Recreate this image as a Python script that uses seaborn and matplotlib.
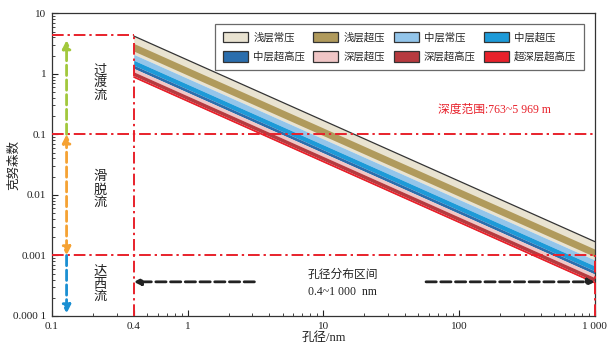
import numpy as np
import pandas as pd
import matplotlib
matplotlib.use("Agg")
import matplotlib.pyplot as plt
from matplotlib.patches import Patch
import seaborn as sns

# ---- data ----
pore_ends = [0.4, 1000]  # nm, extent of bands
categories = ["浅层常压", "浅层超压", "中层常压", "中层超压",
              "中层超高压", "深层超压", "深层超高压", "超深层超高压"]
colors = ["#e9e3d1", "#b09a5c", "#93c5ea", "#1d9ad8",
          "#2b6ead", "#f0c6c6", "#b73a3f", "#e8212b"]
# Knudsen number band limits at d = 0.4 nm and d = 1000 nm
kn_hi_04 = [4.22, 3.18, 2.10, 1.68, 1.39, 1.23, 1.08, 0.93]
kn_lo_04 = [2.10, 2.38, 1.68, 1.39, 1.23, 1.08, 0.93, 0.88]
kn_hi_1000 = [0.00169, 0.00127, 0.00084, 0.00067, 0.000555, 0.00049, 0.00043, 0.00037]
kn_lo_1000 = [0.00084, 0.00095, 0.00067, 0.000555, 0.00049, 0.00043, 0.00037, 0.00035]

xticks = [0.1, 0.4, 1, 10, 100, 1000]
xticklabels = ["0.1", "0.4", "1", "10", "100", "1 000"]
yticks = [1e-4, 1e-3, 1e-2, 1e-1, 1, 10]
yticklabels = ["0.000 1", "0.001", "0.01", "0.1", "1", "10"]

kn_transition_top = 4.3
kn_boundaries = [0.1, 0.001]

sns.set_theme(style="ticks")
plt.rcParams["font.family"] = ["Liberation Serif", "Noto Sans CJK SC", "DejaVu Sans"]
plt.rcParams["axes.unicode_minus"] = False

fig = plt.figure(figsize=(6.12, 3.55), dpi=100)
ax = fig.add_axes([0.085, 0.110, 0.887, 0.8525])
ax.set_xscale("log")
ax.set_yscale("log")
ax.set_xlim(0.1, 1000)
ax.set_ylim(1e-4, 10)

# ---- bands ----
handles = []
for i, (cat, col) in enumerate(zip(categories, colors)):
    ax.fill_between(pore_ends, [kn_lo_04[i], kn_lo_1000[i]],
                    [kn_hi_04[i], kn_hi_1000[i]], color=col, lw=0, zorder=2 + i * 0.01)
    handles.append(Patch(facecolor=col, edgecolor="#333333", linewidth=0.9, label=cat))

edge_df = pd.DataFrame({
    "d": pore_ends * 2,
    "kn": [kn_hi_04[0], kn_hi_1000[0], kn_lo_04[-1], kn_lo_1000[-1]],
    "edge": ["top", "top", "bottom", "bottom"],
})
sns.lineplot(data=edge_df, x="d", y="kn", hue="edge",
             palette={"top": "#333333", "bottom": "#e8212b"},
             lw=0.9, ax=ax, legend=False, zorder=3)

# ---- reference dash-dot lines ----
red = "#e8212b"
dd = dict(color=red, lw=1.4, ls=(0, (6, 2, 1.2, 2)), zorder=4)
ax.plot([0.1, 0.4], [kn_transition_top, kn_transition_top], **dd)
for yb in kn_boundaries:
    ax.plot([0.1, 1000], [yb, yb], **dd)
ax.plot([0.4, 0.4], [1e-4, kn_transition_top], **dd)
ax.plot([1000, 1000], [1e-4, 1e-3], clip_on=False, **dd)

# ---- vertical flow regime arrows ----
xa = 0.128
ax.annotate("", xy=(xa, 3.6), xytext=(xa, 0.1),
            arrowprops=dict(arrowstyle="-|>", color="#a2c83c", lw=2, ls="--",
                            mutation_scale=12, shrinkA=0, shrinkB=0), zorder=5)
ax.annotate("", xy=(xa, 0.001), xytext=(xa, 0.1),
            arrowprops=dict(arrowstyle="<|-|>", color="#f5a233", lw=2, ls="--",
                            mutation_scale=12, shrinkA=0, shrinkB=0), zorder=5)
ax.annotate("", xy=(xa, 0.00011), xytext=(xa, 0.001),
            arrowprops=dict(arrowstyle="-|>", color="#1a8fd2", lw=2, ls="--",
                            mutation_scale=12, shrinkA=0, shrinkB=0), zorder=5)

tx = dict(ha="center", va="center", fontsize=9.5, color="#222222", linespacing=1.05)
ax.text(0.226, 0.70, "过\n渡\n流", **tx)
ax.text(0.226, 0.012, "滑\n脱\n流", **tx)
ax.text(0.226, 0.00033, "达\n西\n流", **tx)

# ---- horizontal pore-size arrows ----
ya = 0.000366
ax.annotate("", xy=(0.4, ya), xytext=(3.1, ya),
            arrowprops=dict(arrowstyle="-|>", color="#222222", lw=2, ls="--",
                            mutation_scale=10, shrinkA=0, shrinkB=0), zorder=5)
ax.annotate("", xy=(1000, ya), xytext=(57, ya),
            arrowprops=dict(arrowstyle="-|>", color="#222222", lw=2, ls="--",
                            mutation_scale=10, shrinkA=0, shrinkB=0), zorder=5)
ax.text(7.7, 0.00047, "孔径分布区间", ha="left", va="center", fontsize=8.5, color="#222222")
ax.text(7.7, 0.00025, "0.4~1 000  nm", ha="left", va="center", fontsize=8.5, color="#222222")

ax.text(183, 0.25, "深度范围:763~5 969 m", ha="center", va="center", fontsize=8.5, color=red)

# ---- axes ----
ax.set_xticks(xticks)
ax.set_xticklabels(xticklabels)
ax.set_yticks(yticks)
ax.set_yticklabels(yticklabels)
ax.tick_params(axis="both", which="major", direction="in", length=4, width=0.8,
               labelsize=8, colors="#222222", pad=4)
ax.tick_params(axis="both", which="minor", direction="in", length=2, width=0.6)
for s in ax.spines.values():
    s.set_color("#333333")
    s.set_linewidth(0.9)
ax.set_xlabel("孔径/nm", fontsize=9, labelpad=1, color="#222222")
ax.set_ylabel("克努森数", fontsize=9, color="#222222")
ax.yaxis.set_label_coords(-0.058, 0.5)

order = [0, 4, 1, 5, 2, 6, 3, 7]
leg = ax.legend([handles[i] for i in order], [categories[i] for i in order],
                ncol=4, loc="upper right", bbox_to_anchor=(0.99, 0.982),
                fontsize=7.5, frameon=True, fancybox=False, edgecolor="#444444",
                handlelength=2.4, handleheight=1.2, columnspacing=0.8,
                handletextpad=0.5, borderpad=0.75, labelspacing=0.8)
leg.get_frame().set_linewidth(0.9)
leg.set_zorder(6)

fig.savefig("out.png", dpi=100)
